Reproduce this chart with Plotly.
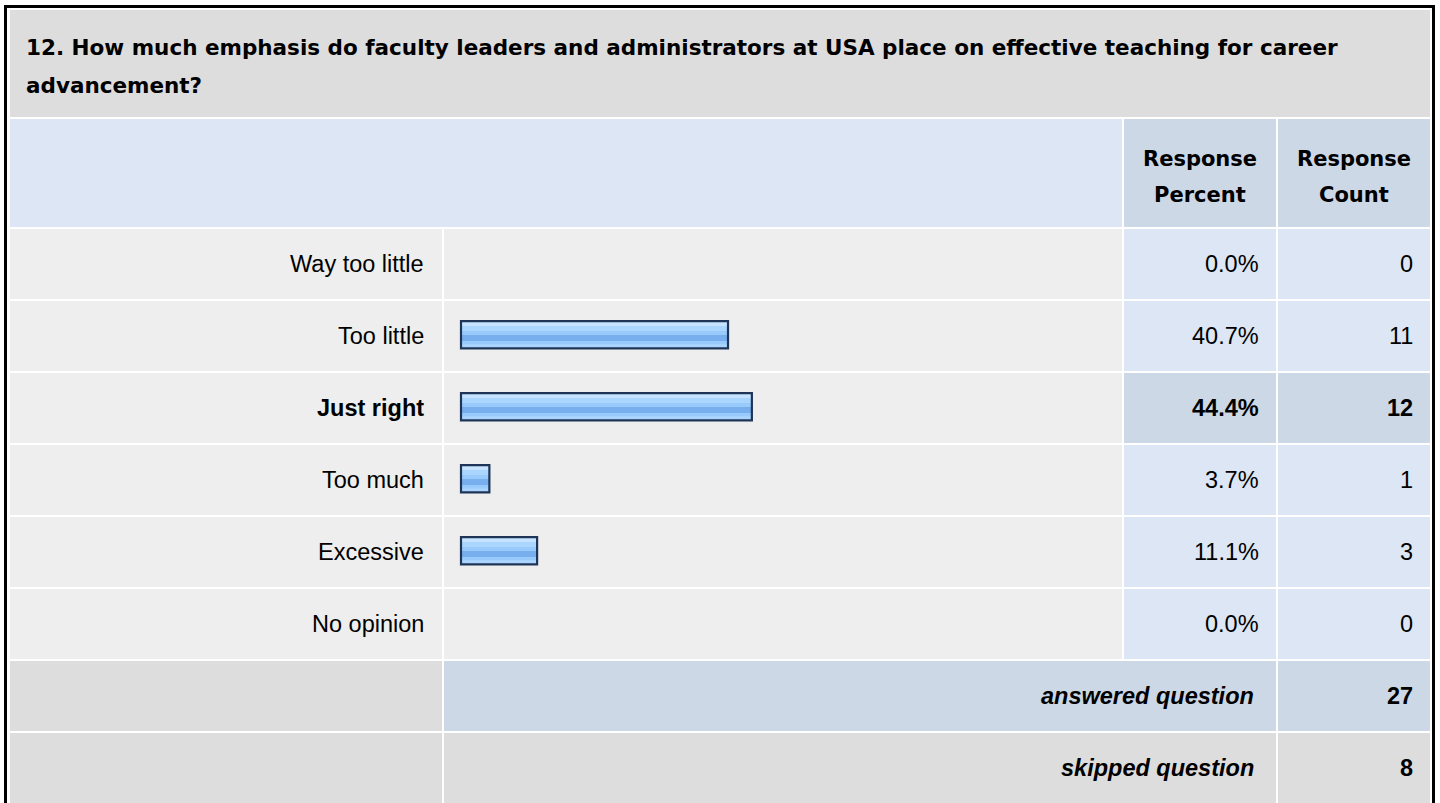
import plotly.graph_objects as go

# ---------------- data ----------------
title_line1 = "12. How much emphasis do faculty leaders and administrators at USA place on effective teaching for career"
title_line2 = "advancement?"
header_pct = ["Response", "Percent"]
header_cnt = ["Response", "Count"]
categories = ["Way too little", "Too little", "Just right", "Too much", "Excessive", "No opinion"]
percents = [0.0, 40.7, 44.4, 3.7, 11.1, 0.0]
counts = [0, 11, 12, 1, 3, 0]
highlight = "Just right"
answered_label = "answered question"
answered_count = 27
skipped_label = "skipped question"
skipped_count = 8

# ---------------- geometry / style ----------------
W, H = 1440, 803
FONT = "Arial, 'Liberation Sans', sans-serif"
FONT_WIDE = "'DejaVu Sans', Verdana, sans-serif"
C_TITLE = "#DDDDDD"
C_HDR = "#DCE6F4"
C_HDR2 = "#CCD8E6"
C_ROW = "#EEEEEE"
C_FOOT = "#DDDDDD"
OUTLINE = "#1F3558"

X0, X1, X2, X3, X4 = 10, 442, 444, 1122, 1124
X5, X6, X7 = 1276, 1278, 1430
ROW_TOP0 = 229
ROW_PITCH = 72
ROW_H = 70


def px(x):
    return x / W


def py(y):
    return 1 - y / H


shapes = []


def rect(x0, y0, x1, y1, color):
    shapes.append(dict(type="rect", xref="paper", yref="paper",
                       x0=px(x0), x1=px(x1), y0=py(y1), y1=py(y0),
                       fillcolor=color, line=dict(width=0), layer="below"))


# outer border
rect(4, 5, 1435, H + 20, "#000000")
rect(7, 8, 1432, H + 20, "#FFFFFF")
# title
rect(X0, 10, X7, 117, C_TITLE)
# header
rect(X0, 119, X3, 227, C_HDR)
rect(X4, 119, X5, 227, C_HDR2)
rect(X6, 119, X7, 227, C_HDR2)
# data rows
for i, cat in enumerate(categories):
    t = ROW_TOP0 + ROW_PITCH * i
    b = t + ROW_H
    rect(X0, t, X1, b, C_ROW)
    rect(X2, t, X3, b, C_ROW)
    c = C_HDR2 if cat == highlight else C_HDR
    rect(X4, t, X5, b, c)
    rect(X6, t, X7, b, c)
# footer rows
ft = ROW_TOP0 + ROW_PITCH * len(categories)
rect(X0, ft, X1, ft + ROW_H, C_FOOT)
rect(X2, ft, X5, ft + ROW_H, C_HDR2)
rect(X6, ft, X7, ft + ROW_H, C_HDR2)
st = ft + ROW_PITCH
rect(X0, st, X1, st + ROW_H + 20, C_FOOT)
rect(X2, st, X5, st + ROW_H + 20, C_FOOT)
rect(X6, st, X7, st + ROW_H + 20, C_FOOT)

annotations = []


def text(x, y, s, size, anchor="right", bold=False, italic=False, family=FONT):
    if bold:
        s = "<b>" + s + "</b>"
    if italic:
        s = "<i>" + s + "</i>"
    annotations.append(dict(xref="paper", yref="paper", x=px(x), y=py(y),
                            text=s, showarrow=False, xanchor=anchor,
                            yanchor="middle", borderpad=0,
                            font=dict(family=family, size=size, color="#000000")))


text(25, 47, title_line1, 21.5, anchor="left", bold=True, family=FONT_WIDE)
text(25, 86, title_line2, 21.5, anchor="left", bold=True, family=FONT_WIDE)
text((X4 + X5) / 2, 159, header_pct[0], 21, anchor="center", bold=True, family=FONT_WIDE)
text((X4 + X5) / 2, 195, header_pct[1], 21, anchor="center", bold=True, family=FONT_WIDE)
text((X6 + X7) / 2, 159, header_cnt[0], 21, anchor="center", bold=True, family=FONT_WIDE)
text((X6 + X7) / 2, 195, header_cnt[1], 21, anchor="center", bold=True, family=FONT_WIDE)

for i, cat in enumerate(categories):
    cy = ROW_TOP0 + ROW_PITCH * i + ROW_H / 2
    hb = cat == highlight
    text(424.5, cy, cat, 23.5, bold=hb)
    text(1260, cy, f"{percents[i]:.1f}%", 23.5, bold=hb)
    text(1414, cy, str(counts[i]), 23.5, bold=hb)

text(1255, ft + ROW_H / 2, answered_label, 23.5, bold=True, italic=True)
text(1414, ft + ROW_H / 2, str(answered_count), 23.5, bold=True)
text(1255, st + ROW_H / 2, skipped_label, 23.5, bold=True, italic=True)
text(1414, st + ROW_H / 2, str(skipped_count), 23.5, bold=True)

# ---------------- bars ----------------
# x axis: pixel = 465.5 + 6.45 * value ; y axis: bar centre pixel = 262.7 + 72 * row
XS, XI = 6.45, 465.5
YC0 = 262.7
x_range = [-XI / XS, (W - XI) / XS]
y_range = [(H - YC0) / ROW_PITCH, -YC0 / ROW_PITCH]
bar_base = (461 - XI) / XS
FILL_H = 27.3

rows = [i for i, p in enumerate(percents) if p > 0]
vals = [percents[i] for i in rows]

fig = go.Figure()

bands = [
    (0.0, FILL_H, "#99CAFC"),
    (0.0, 5.0, "#C6E3FF"),
    (5.0, 5.0, "#A9D5FF"),
    (14.0, 6.0, "#77AFEE"),
    (23.3, 4.0, "#A9D4FD"),
]
for t0, hh, col in bands:
    fig.add_trace(go.Bar(
        y=rows, x=[v - bar_base for v in vals], base=bar_base, orientation="h",
        width=hh / ROW_PITCH, offset=(-FILL_H / 2 + t0) / ROW_PITCH,
        marker=dict(color=col, line=dict(width=0)),
        hoverinfo="skip", showlegend=False))

fig.add_trace(go.Bar(
    y=rows, x=[v - bar_base for v in vals], base=bar_base, orientation="h",
    width=FILL_H / ROW_PITCH, offset=-FILL_H / 2 / ROW_PITCH,
    marker=dict(color="rgba(0,0,0,0)", line=dict(width=2.2, color=OUTLINE)),
    customdata=[categories[i] for i in rows],
    hovertemplate="%{customdata}: %{x:.1f}%<extra></extra>", showlegend=False))

fig.update_layout(
    width=W, height=H, autosize=False,
    margin=dict(l=0, r=0, t=0, b=0),
    paper_bgcolor="#FFFFFF", plot_bgcolor="rgba(0,0,0,0)",
    barmode="overlay",
    xaxis=dict(range=x_range, visible=False, fixedrange=True),
    yaxis=dict(range=y_range, visible=False, fixedrange=True),
    shapes=shapes, annotations=annotations,
)

fig.write_html("out.html", config={"displayModeBar": False},
               post_script="document.body.style.margin='0';document.body.style.overflow='hidden';")
